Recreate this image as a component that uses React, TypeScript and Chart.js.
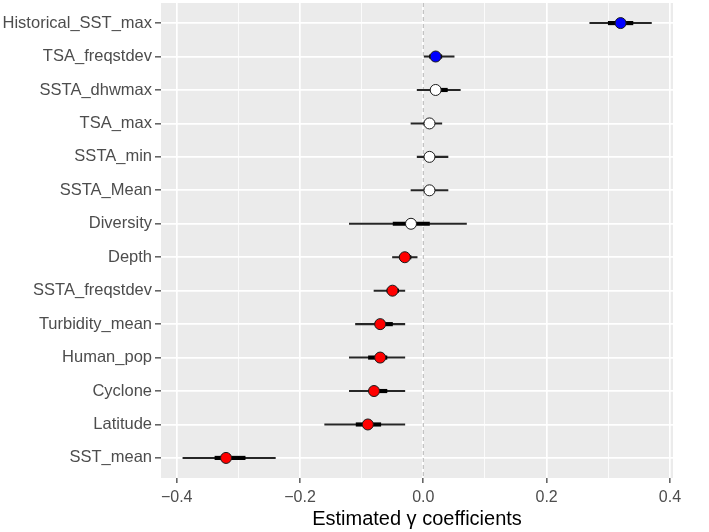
import React, { useEffect, useRef } from "react";
import { Chart, registerables } from "chart.js";

Chart.register(...registerables);

const labels = [
  "Historical_SST_max",
  "TSA_freqstdev",
  "SSTA_dhwmax",
  "TSA_max",
  "SSTA_min",
  "SSTA_Mean",
  "Diversity",
  "Depth",
  "SSTA_freqstdev",
  "Turbidity_mean",
  "Human_pop",
  "Cyclone",
  "Latitude",
  "SST_mean",
];
const estimate = [0.32, 0.02, 0.02, 0.01, 0.01, 0.01, -0.02, -0.03, -0.05, -0.07, -0.07, -0.08, -0.09, -0.32];
const outerLow = [0.27, 0.0, -0.01, -0.02, -0.01, -0.02, -0.12, -0.05, -0.08, -0.11, -0.12, -0.12, -0.16, -0.39];
const outerHigh = [0.37, 0.05, 0.06, 0.03, 0.04, 0.04, 0.07, -0.01, -0.03, -0.03, -0.03, -0.03, -0.03, -0.24];
const innerLow = [0.3, 0.01, 0.012, 0.0, 0.002, 0.0, -0.049, -0.039, -0.059, -0.078, -0.089, -0.086, -0.109, -0.338];
const innerHigh = [0.34, 0.03, 0.039, 0.014, 0.015, 0.018, 0.01, -0.02, -0.04, -0.05, -0.059, -0.059, -0.069, -0.289];
const pointColors = [
  "#0000FF", "#0000FF",
  "#FFFFFF", "#FFFFFF", "#FFFFFF", "#FFFFFF", "#FFFFFF",
  "#FF0000", "#FF0000", "#FF0000", "#FF0000", "#FF0000", "#FF0000", "#FF0000",
];
const xTicks = [-0.4, -0.3, -0.2, -0.1, 0, 0.1, 0.2, 0.3, 0.4];
const xTickLabels = ["\u22120.4", "", "\u22120.2", "", "0.0", "", "0.2", "", "0.4"];
const xTitle = "Estimated \u03b3 coefficients";
const X_MIN = -0.4255;
const X_MAX = 0.405;

const FONT = "'Liberation Sans', Arial, Helvetica, sans-serif";

export default function App() {
  const ref = useRef<HTMLCanvasElement>(null);

  useEffect(() => {
    const canvas = ref.current;
    if (!canvas) return;
    Chart.defaults.font.family = FONT;
    const idx = labels.map((_, i) => i);

    const panelBg = {
      id: "panelBg",
      beforeDraw(chart: any) {
        const { ctx, chartArea: a } = chart;
        ctx.save();
        ctx.fillStyle = "#EBEBEB";
        ctx.fillRect(a.left, a.top, a.right - a.left, a.bottom - a.top);
        ctx.restore();
      },
    };

    const chart = new Chart(canvas, {
      type: "bar",
      data: {
        datasets: [
          {
            type: "scatter",
            data: idx.map((i) => ({ x: estimate[i], y: i })),
            pointRadius: 5.5,
            pointHoverRadius: 5.5,
            pointBackgroundColor: pointColors,
            pointBorderColor: "#1A1A1A",
            pointBorderWidth: 1,
            order: 0,
          } as any,
          {
            type: "bar",
            data: idx.map((i) => ({ x: [innerLow[i], innerHigh[i]], y: i })),
            backgroundColor: "#000000",
            borderWidth: 0,
            barThickness: 3.5,
            grouped: false,
            order: 1,
          } as any,
          {
            type: "bar",
            data: idx.map((i) => ({ x: [outerLow[i], outerHigh[i]], y: i })),
            backgroundColor: "#262626",
            borderWidth: 0,
            barThickness: 1.4,
            grouped: false,
            order: 2,
          } as any,
          {
            type: "line",
            data: [
              { x: 0, y: -0.6 },
              { x: 0, y: 13.6 },
            ],
            borderColor: "#BEBEBE",
            borderWidth: 1.2,
            borderDash: [4, 3],
            pointRadius: 0,
            order: 3,
          } as any,
        ],
      },
      options: {
        indexAxis: "y",
        responsive: false,
        animation: false,
        events: [],
        devicePixelRatio: 1,
        layout: { autoPadding: false, padding: { top: 3, right: 36, left: 0, bottom: 0 } },
        plugins: { legend: { display: false }, tooltip: { enabled: false } },
        scales: {
          x: {
            type: "linear",
            min: X_MIN,
            max: X_MAX,
            offset: false,
            afterBuildTicks: (s: any) => {
              s.ticks = xTicks.map((v) => ({ value: v }));
            },
            ticks: {
              autoSkip: false,
              maxRotation: 0,
              color: "#4D4D4D",
              font: { size: 16, family: FONT },
              padding: 5,
              callback: (_v: any, i: number) => xTickLabels[i],
            },
            grid: {
              offset: false,
              color: "#FFFFFF",
              lineWidth: (c: any) => (c.index % 2 === 0 ? 1.7 : 0.8),
              tickColor: (c: any) => (c.index % 2 === 0 ? "#333333" : "rgba(0,0,0,0)"),
              tickLength: 5,
              tickWidth: 1.2,
            },
            border: { display: false },
            title: {
              display: true,
              text: xTitle,
              color: "#000000",
              font: { size: 20, family: FONT },
              padding: { top: 2, bottom: 1 },
            },
            afterFit: (s: any) => {
              s.height = 54;
            },
          },
          y: {
            type: "linear",
            reverse: true,
            min: -0.6,
            max: 13.6,
            offset: false,
            afterBuildTicks: (s: any) => {
              s.ticks = labels.map((_, i) => ({ value: i }));
            },
            ticks: {
              autoSkip: false,
              color: "#4D4D4D",
              font: { size: 16.5, family: FONT },
              padding: 3,
              callback: (_v: any, i: number) => labels[i],
            },
            grid: {
              offset: false,
              color: "#FFFFFF",
              lineWidth: 1.7,
              tickColor: "#333333",
              tickLength: 6,
              tickWidth: 1.2,
            },
            border: { display: false },
            afterFit: (s: any) => {
              s.width = 161;
              s.paddingTop = 0;
              s.paddingBottom = 0;
            },
          },
        },
      } as any,
      plugins: [panelBg],
    });

    return () => chart.destroy();
  }, []);

  return (
    <div style={{ position: "absolute", left: 0, top: 0, width: 709, height: 532, background: "#FFFFFF" }}>
      <canvas ref={ref} width={709} height={532} style={{ display: "block" }} />
    </div>
  );
}
